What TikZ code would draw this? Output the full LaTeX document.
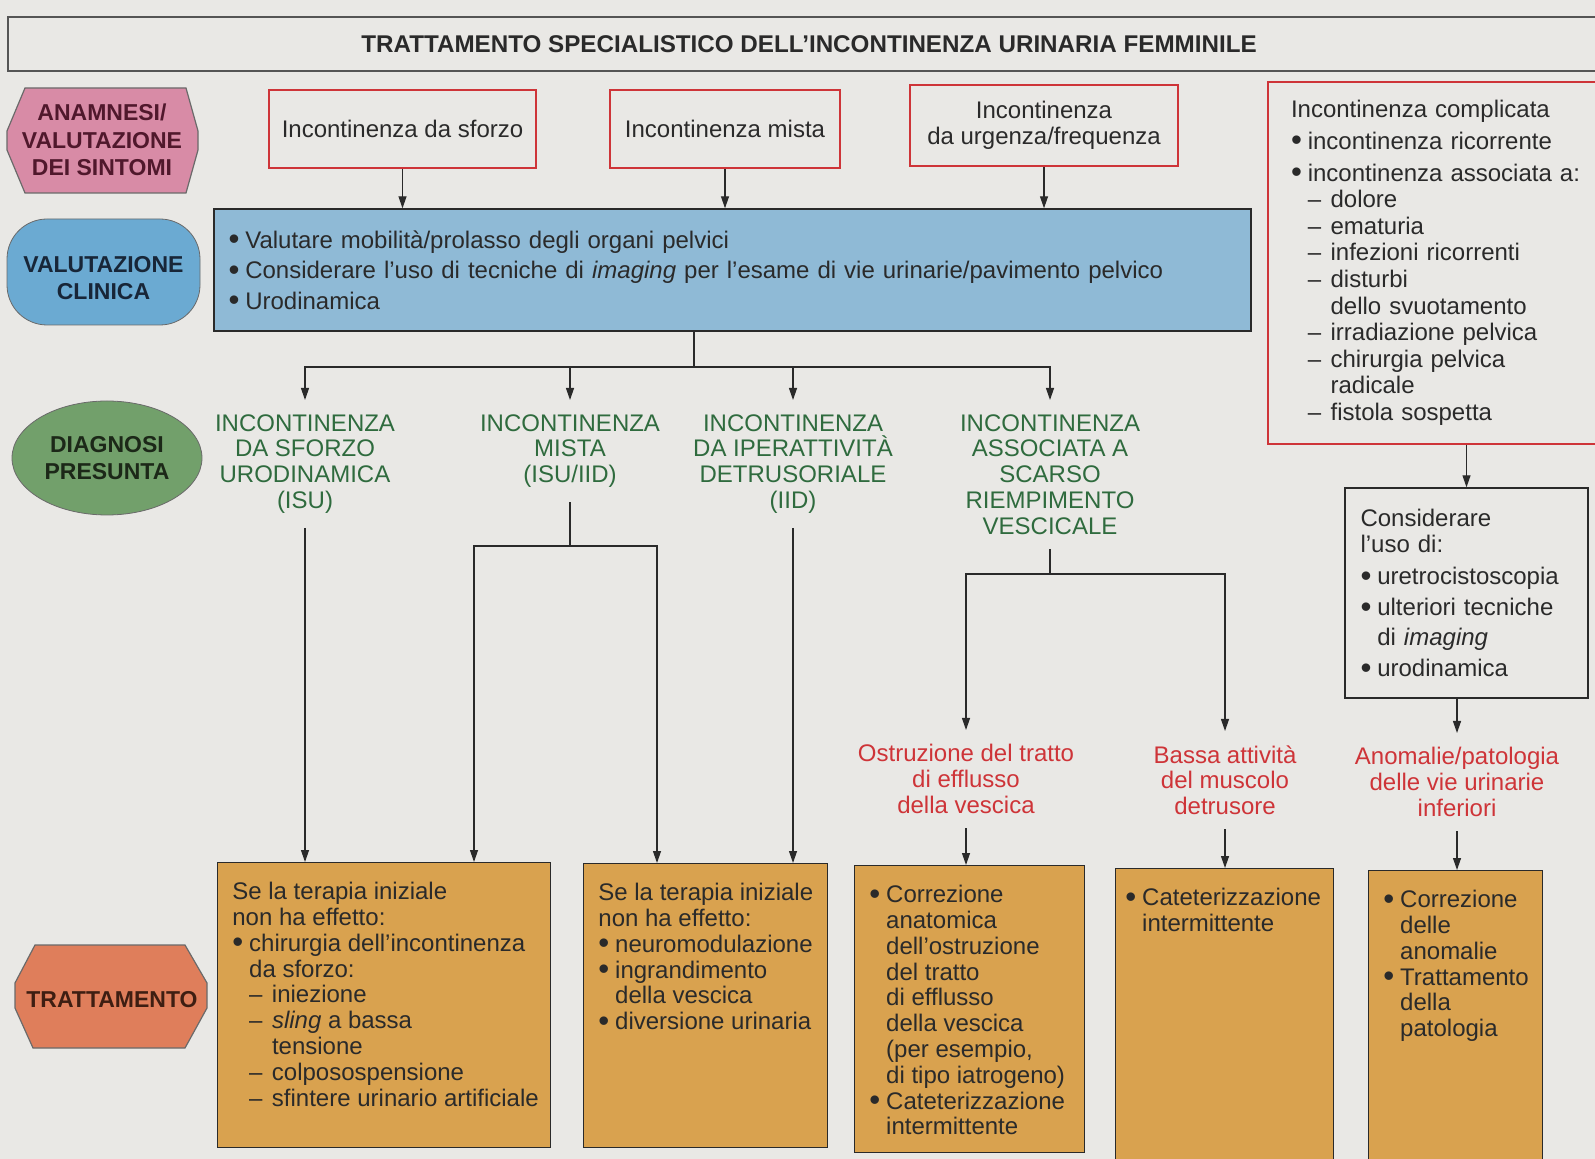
\documentclass[tikz,border=0pt]{standalone}
\usepackage{fontspec}
\setmainfont{Liberation Sans}
\usepackage{tikz}
\usetikzlibrary{shapes.geometric, arrows.meta}
\definecolor{ucpaper}{RGB}{233,232,229}
\definecolor{ucink}{RGB}{42,42,42}
\definecolor{ucred}{RGB}{206,52,56}
\definecolor{ucpink}{RGB}{216,139,166}
\definecolor{ucplum}{RGB}{80,24,44}
\definecolor{ucsky}{RGB}{107,170,210}
\definecolor{ucnavy}{RGB}{24,38,56}
\definecolor{ucpale}{RGB}{143,186,214}
\definecolor{ucgreen}{RGB}{114,160,107}
\definecolor{ucforest}{RGB}{28,40,24}
\definecolor{ucleaf}{RGB}{47,107,62}
\definecolor{ucsalmon}{RGB}{223,126,91}
\definecolor{ucbrown}{RGB}{62,30,18}
\definecolor{ucochre}{RGB}{217,162,79}
\newcommand{\ucbul}{\makebox[0.7em][l]{\smash{\raisebox{-0.06em}{\scalebox{1.3}{\textbullet}}}}}
\newcommand{\ucdash}{\makebox[0.95em][l]{–}}

\begin{document}
\begin{tikzpicture}[x=0.5pt, y=-0.5pt,
  every node/.style={font=\fontsize{12}{12.9}\selectfont, text=ucink},
  stage/.style={align=center, font=\fontsize{11.5}{13.7}\selectfont\bfseries},
  sympt/.style={rectangle, draw=ucred, line width=1pt, align=center, font=\fontsize{12}{13}\selectfont},
  diag/.style={align=center, text=ucleaf, anchor=north, inner xsep=2pt, inner ysep=7pt},
  cause/.style={align=center, text=ucred, anchor=north, inner xsep=2pt, inner ysep=7pt},
  treat/.style={rectangle, draw=ucink, fill=ucochre, line width=0.7pt, anchor=north west},
  tlist/.style={align=left, anchor=north west, inner xsep=7.5pt, inner ysep=10pt},
  arrow/.style={-{Triangle[length=6pt,width=4pt]}, draw=ucink, line width=0.6pt},
  link/.style={draw=ucink, line width=0.6pt}
]
\useasboundingbox (0,0) rectangle (1595,1159);
\fill[ucpaper] (0,0) rectangle (1595,1159);

\node[draw=ucink!80, line width=0.8pt, minimum width=801pt, minimum height=27pt, font=\fontsize{12.1}{14}\selectfont\bfseries] (title) at (809,44) {TRATTAMENTO SPECIALISTICO DELL’INCONTINENZA URINARIA FEMMINILE};

\filldraw[fill=ucpink, draw=ucink!70, line width=0.6pt] (25,88) -- (186,88) -- (198,131) -- (198,150) -- (186,193) -- (25,193) -- (7,150) -- (7,131) -- cycle;
\node[stage, text=ucplum] (anam) at (102,140) {ANAMNESI/\\VALUTAZIONE\\DEI SINTOMI};
\node[stage, draw=ucink!70, fill=ucsky, rounded corners=20pt, minimum width=96.5pt, minimum height=53pt, text=ucnavy] (valcl) at (103.5,272) {\rule{0pt}{14pt}VALUTAZIONE\\CLINICA};
\node[stage, ellipse, draw=ucink!70, fill=ucgreen, minimum width=95pt, minimum height=57pt, inner sep=0pt, text=ucforest] (diagn) at (107,458) {DIAGNOSI\\PRESUNTA};
\filldraw[fill=ucsalmon, draw=ucink!70, line width=0.6pt] (35,945) -- (185,945) -- (207,983) -- (207,1008) -- (185,1048) -- (33,1048) -- (15,1008) -- (15,983) -- cycle;
\node[stage, text=ucbrown] (tratt) at (112,1000) {TRATTAMENTO};

\node[sympt, minimum width=133.5pt, minimum height=39pt] (sforzo) at (402.5,129) {Incontinenza da sforzo};
\node[sympt, minimum width=115pt, minimum height=39pt] (mista) at (725,129) {Incontinenza mista};
\node[sympt, minimum width=134pt, minimum height=40.5pt] (urgenza) at (1044,125.5) {Incontinenza\\da urgenza/frequenza};

\node[rectangle, draw=ucink, fill=ucpale, line width=0.7pt, minimum width=518.5pt, minimum height=61pt, text width=504pt, inner xsep=7pt, align=left, font=\fontsize{12}{15.2}\selectfont] (clin) at (732.5,270) {\ucbul Valutare mobilità/prolasso degli organi pelvici\\
\ucbul Considerare l’uso di tecniche di \textit{imaging} per l’esame di vie urinarie/pavimento pelvico\\
\ucbul Urodinamica};

\draw[arrow] (sforzo.south) -- (sforzo.south |- clin.north);
\draw[arrow] (mista.south) -- (mista.south |- clin.north);
\draw[arrow] (urgenza.south) -- (urgenza.south |- clin.north);

\node[sympt, anchor=north west, minimum width=180pt, minimum height=181pt, text width=157pt, inner xsep=11.5pt, align=left, font=\fontsize{12}{13.3}\selectfont] (compl) at (1267,81) {Incontinenza complicata\\[2.5pt]
\ucbul incontinenza ricorrente\\[2.5pt]
\ucbul incontinenza associata a:\\
\hspace*{0.7em}\ucdash dolore\\
\hspace*{0.7em}\ucdash ematuria\\
\hspace*{0.7em}\ucdash infezioni ricorrenti\\
\hspace*{0.7em}\ucdash disturbi\\
\hspace*{1.65em}dello svuotamento\\
\hspace*{0.7em}\ucdash irradiazione pelvica\\
\hspace*{0.7em}\ucdash chirurgia pelvica\\
\hspace*{1.65em}radicale\\
\hspace*{0.7em}\ucdash fistola sospetta};

\node[rectangle, draw=ucink, line width=0.7pt, minimum width=121.5pt, minimum height=105pt, text width=106pt, inner xsep=7.75pt, align=left, font=\fontsize{12}{13}\selectfont] (cons) at (1466.5,593) {Considerare\\
l’uso di:\\[3pt]
\ucbul uretrocistoscopia\\[2.5pt]
\ucbul ulteriori tecniche\\[2pt]
\hspace*{0.7em}di \textit{imaging}\\[2.5pt]
\ucbul urodinamica};
\draw[arrow] (cons.north |- compl.south) -- (cons.north);

\coordinate (split) at (694,367);
\draw[link] (split |- clin.south) -- (split);
\node[diag] (isu) at (305,400) {INCONTINENZA\\DA SFORZO\\URODINAMICA\\(ISU)};
\node[diag] (misto) at (570,400) {INCONTINENZA\\MISTA\\(ISU/IID)};
\node[diag] (iid) at (793,400) {INCONTINENZA\\DA IPERATTIVITÀ\\DETRUSORIALE\\(IID)};
\node[diag] (scarso) at (1050,400) {INCONTINENZA\\ASSOCIATA A\\SCARSO\\RIEMPIMENTO\\VESCICALE};
\draw[arrow] (split) -| (isu.north);
\draw[arrow] (split) -| (misto.north);
\draw[arrow] (split) -| (iid.north);
\draw[arrow] (split) -| (scarso.north);

\node[treat, minimum width=166.5pt, minimum height=142.5pt] (tsf) at (217,862) {};
\node[treat, minimum width=122pt, minimum height=142pt] (tmix) at (583,863) {};
\node[treat, minimum width=115pt, minimum height=143.5pt] (tost) at (854,865) {};
\node[treat, minimum width=109pt, minimum height=154pt] (tbas) at (1115,868) {};
\node[treat, minimum width=87pt, minimum height=153pt] (tano) at (1368,870) {};

\node[tlist] (tsftxt) at (tsf.north west) {Se la terapia iniziale\\
non ha effetto:\\
\ucbul chirurgia dell’incontinenza\\
\hspace*{0.7em}da sforzo:\\
\hspace*{0.7em}\ucdash iniezione\\
\hspace*{0.7em}\ucdash \textit{sling} a bassa\\
\hspace*{1.65em}tensione\\
\hspace*{0.7em}\ucdash colposospensione\\
\hspace*{0.7em}\ucdash sfintere urinario artificiale};
\node[tlist] (tmixtxt) at (tmix.north west) {Se la terapia iniziale\\
non ha effetto:\\
\ucbul neuromodulazione\\
\ucbul ingrandimento\\
\hspace*{0.7em}della vescica\\
\ucbul diversione urinaria};
\node[tlist] (tosttxt) at (tost.north west) {\ucbul Correzione\\
\hspace*{0.7em}anatomica\\
\hspace*{0.7em}dell’ostruzione\\
\hspace*{0.7em}del tratto\\
\hspace*{0.7em}di efflusso\\
\hspace*{0.7em}della vescica\\
\hspace*{0.7em}(per esempio,\\
\hspace*{0.7em}di tipo iatrogeno)\\
\ucbul Cateterizzazione\\
\hspace*{0.7em}intermittente};
\node[tlist, inner xsep=5pt] (tbastxt) at (tbas.north west) {\ucbul Cateterizzazione\\
\hspace*{0.7em}intermittente};
\node[tlist] (tanotxt) at (tano.north west) {\ucbul Correzione\\
\hspace*{0.7em}delle\\
\hspace*{0.7em}anomalie\\
\ucbul Trattamento\\
\hspace*{0.7em}della\\
\hspace*{0.7em}patologia};

\coordinate (mixL) at (474,546);
\coordinate (mixR) at (657,546);
\draw[arrow] (isu.south) -- (isu.south |- tsf.north);
\draw[link] (misto.south) -- (misto.south |- mixL);
\draw[arrow] (misto.south |- mixL) -| (mixL |- tsf.north);
\draw[arrow] (misto.south |- mixR) -| (mixR |- tmix.north);
\draw[arrow] (iid.south) -- (iid.south |- tmix.north);

\coordinate (scL) at (968,574);
\node[cause] (ostr) at (966,730) {Ostruzione del tratto\\di efflusso\\della vescica};
\node[cause] (bassa) at (1225,731) {Bassa attività\\del muscolo\\detrusore};
\node[cause] (anom) at (1457,733) {Anomalie/patologia\\delle vie urinarie\\inferiori};
\draw[link] (scarso.south) -- (scarso.south |- scL);
\draw[arrow] (scarso.south |- scL) -| (ostr.north);
\draw[arrow] (scarso.south |- scL) -| (bassa.north);
\draw[arrow] (anom.north |- cons.south) -- (anom.north);
\draw[arrow] (ostr.south) -- (ostr.south |- tost.north);
\draw[arrow] (bassa.south) -- (bassa.south |- tbas.north);
\draw[arrow] (anom.south) -- (anom.south |- tano.north);
\end{tikzpicture}
\end{document}
